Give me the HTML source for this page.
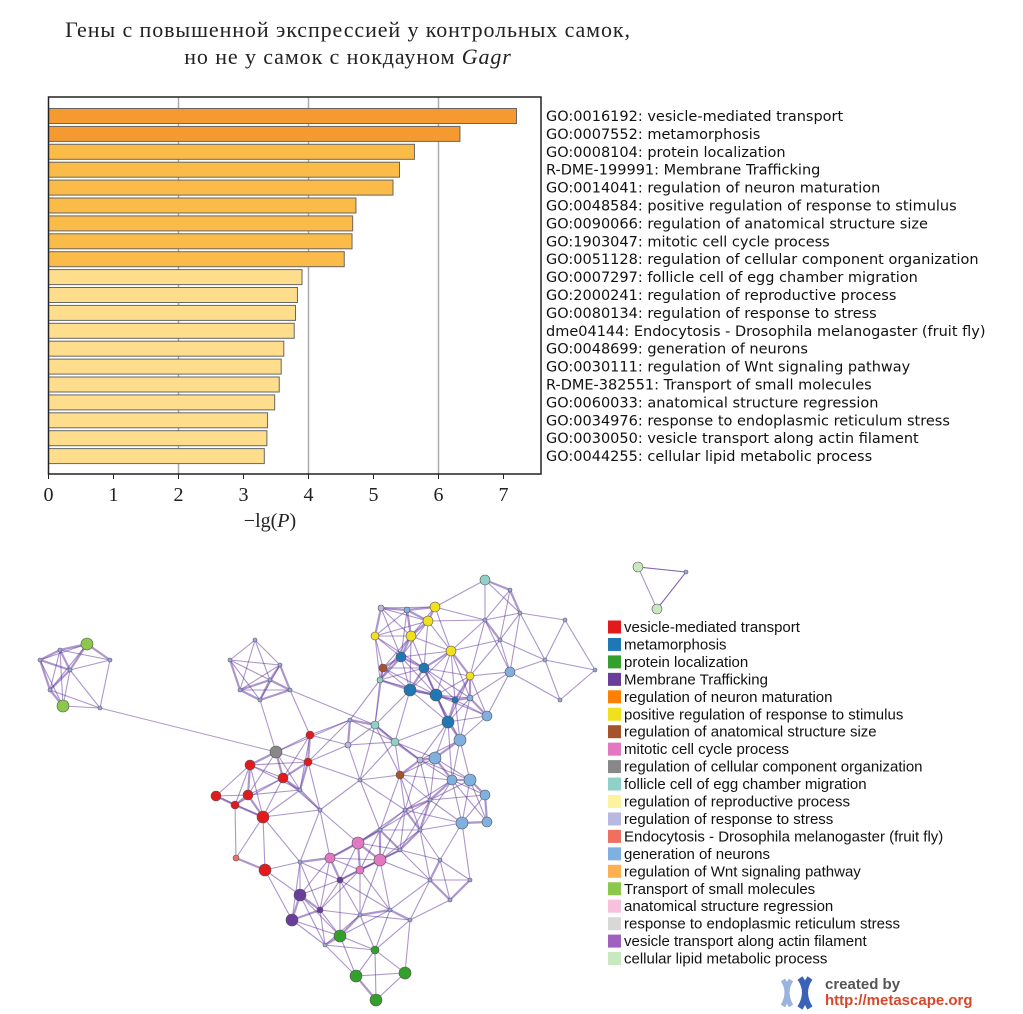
<!DOCTYPE html>
<html><head><meta charset="utf-8"><style>
body{margin:0;background:#fff;width:1023px;height:1014px;overflow:hidden}
svg{display:block}
</style></head><body>
<svg id="root" width="1023" height="1014" xmlns="http://www.w3.org/2000/svg">
<g font-family="Liberation Serif, serif" font-size="22" letter-spacing="0.9" fill="#222" text-anchor="middle">
<text x="348" y="37">Гены с повышенной экспрессией у контрольных самок,</text>
<text x="348" y="64">но не у самок с нокдауном <tspan font-style="italic">Gagr</tspan></text>
</g>
<g id="bars"></g>
<g id="net"></g>
<g id="legend"></g>
<g>
<path d="M783 980 q8 12 0 26 M791 980 q-8 12 0 26" stroke="#9bb3de" stroke-width="5" fill="none"/>
<path d="M800 978 q10 14 0 30 M810 978 q-10 14 0 30" stroke="#3a63b8" stroke-width="6" fill="none"/>
<text x="825" y="989" font-family="Liberation Sans, sans-serif" font-size="15" font-weight="bold" fill="#555">created by</text>
<text x="825" y="1005" font-family="Liberation Sans, sans-serif" font-size="15" font-weight="bold" fill="#d9472b">http://metascape.org</text>
</g>
</svg>
<script>
const NS='http://www.w3.org/2000/svg';
const categories=["GO:0016192: vesicle-mediated transport","GO:0007552: metamorphosis","GO:0008104: protein localization","R-DME-199991: Membrane Trafficking","GO:0014041: regulation of neuron maturation","GO:0048584: positive regulation of response to stimulus","GO:0090066: regulation of anatomical structure size","GO:1903047: mitotic cell cycle process","GO:0051128: regulation of cellular component organization","GO:0007297: follicle cell of egg chamber migration","GO:2000241: regulation of reproductive process","GO:0080134: regulation of response to stress","dme04144: Endocytosis - Drosophila melanogaster (fruit fly)","GO:0048699: generation of neurons","GO:0030111: regulation of Wnt signaling pathway","R-DME-382551: Transport of small molecules","GO:0060033: anatomical structure regression","GO:0034976: response to endoplasmic reticulum stress","GO:0030050: vesicle transport along actin filament","GO:0044255: cellular lipid metabolic process"];
const values=[7.2,6.33,5.63,5.4,5.3,4.73,4.68,4.67,4.55,3.9,3.83,3.8,3.78,3.62,3.58,3.55,3.48,3.37,3.36,3.32];
const xTicks=[0,1,2,3,4,5,6,7];
const gridVals=[2,4,6];
function mk(tag,attrs,parent){const e=document.createElementNS(NS,tag);for(const k in attrs)e.setAttribute(k,attrs[k]);parent.appendChild(e);return e;}
const X=v=>48.5+v*65;
const Y=i=>116+i*17.9;
const bars=document.getElementById('bars');
gridVals.forEach(v=>{const l=mk('line',{x1:X(v),x2:X(v),y1:97,y2:474,stroke:'#aaa','stroke-width':1.5},bars);

});
values.forEach((v,i)=>{const c=i<2?'#f59a30':(i<9?'#fbbb48':'#fedd8c');
const r=mk('rect',{x:X(0),y:Y(i)-7.5,width:X(v)-X(0),height:15,fill:c,stroke:'#666','stroke-width':1},bars);


const t=mk('text',{x:546,y:Y(i)+5,'font-family':'DejaVu Sans, sans-serif','font-size':14.5,fill:'#111'},bars);
t.textContent=categories[i];

});
mk('rect',{x:48.5,y:97,width:492.5,height:377,fill:'none',stroke:'#222','stroke-width':1.5},bars);
xTicks.forEach(v=>{mk('line',{x1:X(v),x2:X(v),y1:474,y2:479,stroke:'#222'},bars);
const t=mk('text',{x:X(v),y:501,'text-anchor':'middle','font-family':'Liberation Serif, serif','font-size':20,fill:'#222'},bars);
t.textContent=v;

});
const xt=mk('text',{x:270,y:527,'text-anchor':'middle','font-family':'Liberation Serif, serif','font-size':20,fill:'#222'},bars);
xt.innerHTML='−lg(<tspan font-style="italic">P</tspan>)';



const legendLabels=["vesicle-mediated transport","metamorphosis","protein localization","Membrane Trafficking","regulation of neuron maturation","positive regulation of response to stimulus","regulation of anatomical structure size","mitotic cell cycle process","regulation of cellular component organization","follicle cell of egg chamber migration","regulation of reproductive process","regulation of response to stress","Endocytosis - Drosophila melanogaster (fruit fly)","generation of neurons","regulation of Wnt signaling pathway","Transport of small molecules","anatomical structure regression","response to endoplasmic reticulum stress","vesicle transport along actin filament","cellular lipid metabolic process"];
const legendColors=["#e31a1c","#1f78b4","#33a02c","#6a3d9a","#ff7f00","#f0e020","#a6522b","#e377c2","#888888","#8fd0c8","#fbf3a0","#b8b8e0","#f07060","#7fb0e0","#fdb050","#8cc84c","#f7c0dc","#d8d8d8","#a060c0","#c8e8c0"];
const leg=document.getElementById('legend');
legendLabels.forEach((s,i)=>{const y=627+i*17.45;
const r=mk('rect',{x:608,y:y-6.5,width:13,height:13,fill:legendColors[i]},leg);


const t=mk('text',{x:624,y:y+5,'font-family':'Liberation Sans, sans-serif','font-size':15,fill:'#111'},leg);
t.textContent=s;

});

// network nodes: [x, y, radius, category index]
const nodes=[[87,644,6,15],[63,706,6,15],[40,660,2,11],[100,708,2,11],[50,690,2,11],[70,670,2,11],[110,660,2,11],[60,650,2,11],
[255,640,2,11],[230,660,2,11],[280,665,2,11],[260,700,2,11],[240,690,2,11],[290,690,2,11],[270,680,2,11],
[381,608,3,11],[407,610,3,13],[435,607,5,5],[428,621,5,5],[411,636,5,5],[375,636,4,5],[451,651,5,5],[470,676,4,5],[485,620,2,11],[520,613,2,11],[485,580,5,9],[510,590,2,11],[500,640,2,11],
[401,657,5,1],[424,668,5,1],[410,690,6,1],[436,695,6,1],[448,722,6,1],[487,716,5,13],[510,672,5,13],[383,668,4,6],[380,680,3,9],[455,700,3,1],[470,698,3,13],[545,660,2,11],[560,700,2,11],[565,620,2,11],[595,670,2,11],
[350,720,2,11],[375,725,4,9],[395,742,4,9],[348,745,3,11],[360,780,2,11],[400,775,4,6],[420,760,3,11],[435,758,6,13],[460,740,6,13],[470,780,6,13],[485,795,5,13],[452,780,5,13],[462,823,6,13],[487,822,5,13],[430,800,2,11],[405,810,2,11],[380,830,2,11],[420,830,2,11],
[276,752,6,8],[310,735,4,0],[308,762,4,0],[283,778,5,0],[250,765,5,0],[248,795,5,0],[216,796,5,0],[263,817,6,0],[235,805,4,0],[236,858,3,12],[265,870,6,0],[300,790,2,11],[320,810,2,11],
[330,858,5,7],[358,843,6,7],[380,860,6,7],[360,870,4,7],[300,862,2,11],[300,895,6,3],[292,920,6,3],[320,910,3,3],[340,880,3,3],
[340,936,6,2],[375,950,4,2],[356,976,6,2],[405,973,6,2],[376,1000,6,2],[390,910,2,11],[410,920,2,11],[360,915,2,11],[325,945,2,11],[430,880,2,11],[450,900,2,11],[470,880,2,11],[440,860,2,11],[400,850,2,11],
[638,567,5,19],[686,572,2,11],[657,609,5,19]];
const net=document.getElementById('net');
const eg=mk('g',{stroke:'#5a2d9a','stroke-opacity':0.5},net);
for(let i=0;i<nodes.length;i++)for(let j=i+1;j<nodes.length;j++){
const dx=nodes[i][0]-nodes[j][0],dy=nodes[i][1]-nodes[j][1];const d=Math.hypot(dx,dy);
if(d<60){mk('line',{x1:nodes[i][0],y1:nodes[i][1],x2:nodes[j][0],y2:nodes[j][1],'stroke-width':d<32?2.2:1.1},eg);}}
mk('line',{x1:100,y1:708,x2:276,y2:752,'stroke-width':1},eg);
mk('line',{x1:276,y1:752,x2:350,y2:720,'stroke-width':1},eg);
mk('line',{x1:290,y1:690,x2:375,y2:725,'stroke-width':1},eg);
mk('line',{x1:638,y1:567,x2:686,y2:572,'stroke-width':1},eg);
mk('line',{x1:686,y1:572,x2:657,y2:609,'stroke-width':1},eg);
nodes.forEach(n=>{const c=mk('circle',{cx:n[0],cy:n[1],r:n[2],fill:n[3]===11&&n[2]<=2?'#9aa8e0':legendColors[n[3]],stroke:'#555','stroke-width':0.6},net);

});
</script>
</body></html>
